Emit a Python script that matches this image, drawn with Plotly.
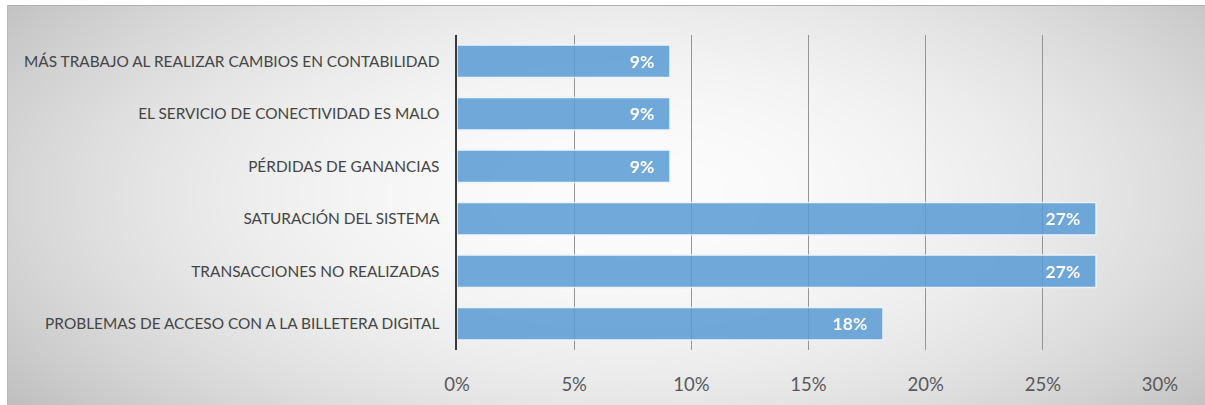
import base64, struct, zlib
import numpy as np
import plotly.graph_objects as go

# ---------------- data ----------------
categories = [
    "MÁS TRABAJO AL REALIZAR CAMBIOS EN CONTABILIDAD",
    "EL SERVICIO DE CONECTIVIDAD ES MALO",
    "PÉRDIDAS DE GANANCIAS",
    "SATURACIÓN DEL SISTEMA",
    "TRANSACCIONES NO REALIZADAS",
    "PROBLEMAS DE ACCESO CON A LA BILLETERA DIGITAL",
]
values = [0.0909, 0.0909, 0.0909, 0.2727, 0.2727, 0.1818]
value_labels = ["9%", "9%", "9%", "27%", "27%", "18%"]
tick_values = [0, 0.05, 0.10, 0.15, 0.20, 0.25, 0.30]
tick_labels = ["0%", "5%", "10%", "15%", "20%", "25%", "30%"]

# ---------------- figure geometry ----------------
W, H = 1205, 405
L, R, T, B = 457, 45, 35, 55
pw, ph = W - L - R, H - T - B


def png_data_uri(arr):
    h, w = arr.shape
    raw = b"".join(b"\x00" + arr[i].astype(np.uint8).tobytes() for i in range(h))

    def chunk(tag, data):
        c = struct.pack(">I", len(data)) + tag + data
        return c + struct.pack(">I", zlib.crc32(tag + data) & 0xFFFFFFFF)

    png = b"\x89PNG\r\n\x1a\n"
    png += chunk(b"IHDR", struct.pack(">IIBBBBB", w, h, 8, 0, 0, 0, 0))
    png += chunk(b"IDAT", zlib.compress(raw, 9))
    png += chunk(b"IEND", b"")
    return "data:image/png;base64," + base64.b64encode(png).decode()


# radial gray background (chart area starts a few px in from the top-left)
bx0, by0 = 7, 5
bw, bh = W - bx0, H - by0
yy, xx = np.mgrid[0:bh, 0:bw]
d2 = ((xx - 620) / 640.0) ** 2 + ((yy - 190) / 290.0) ** 2
bg = np.clip(252 - 42 * d2, 188, 255)
bg[0, :] = 175
bg[:, 0] = 185
bg_uri = png_data_uri(bg)

fig = go.Figure()
fig.add_trace(
    go.Bar(
        x=values,
        y=categories,
        orientation="h",
        text=[t + "\u00a0\u00a0\u00a0" for t in value_labels],
        textposition="inside",
        insidetextanchor="end",
        textfont=dict(family="Lato", size=17.5, color="white", weight="bold"),
        marker=dict(color="#5B9BD5", line=dict(color="rgba(235,245,255,1)", width=1.5)),
        opacity=0.86,
        hoverinfo="skip",
    )
)

fig.update_layout(
    width=W,
    height=H,
    margin=dict(l=L, r=R, t=T, b=B),
    paper_bgcolor="white",
    plot_bgcolor="rgba(0,0,0,0)",
    bargap=0.38,
    showlegend=False,
    images=[
        dict(
            source=bg_uri,
            xref="paper",
            yref="paper",
            x=(bx0 - L) / pw,
            y=1 + (T - by0) / ph,
            sizex=bw / pw,
            sizey=bh / ph,
            xanchor="left",
            yanchor="top",
            sizing="stretch",
            layer="below",
        )
    ],
    xaxis=dict(
        range=[0, 0.30],
        tickvals=tick_values,
        ticktext=tick_labels,
        showgrid=True,
        gridcolor="#959595",
        gridwidth=1,
        zeroline=False,
        showline=False,
        ticks="outside",
        ticklen=18,
        tickcolor="rgba(0,0,0,0)",
        tickfont=dict(family="Lato", size=18.5, color="#595959"),
        automargin=False,
        fixedrange=True,
    ),
    yaxis=dict(
        autorange="reversed",
        showgrid=False,
        showline=True,
        linecolor="#3A3A3A",
        linewidth=2.5,
        ticks="outside",
        ticklen=12,
        tickcolor="rgba(0,0,0,0)",
        tickfont=dict(family="Lato", size=15.4, color="#454545"),
        automargin=False,
        fixedrange=True,
    ),
)

fig.write_html(
    "out.html",
    config={"displayModeBar": False, "staticPlot": True},
    post_script="document.body.style.margin='0';document.body.style.overflow='hidden';",
)
